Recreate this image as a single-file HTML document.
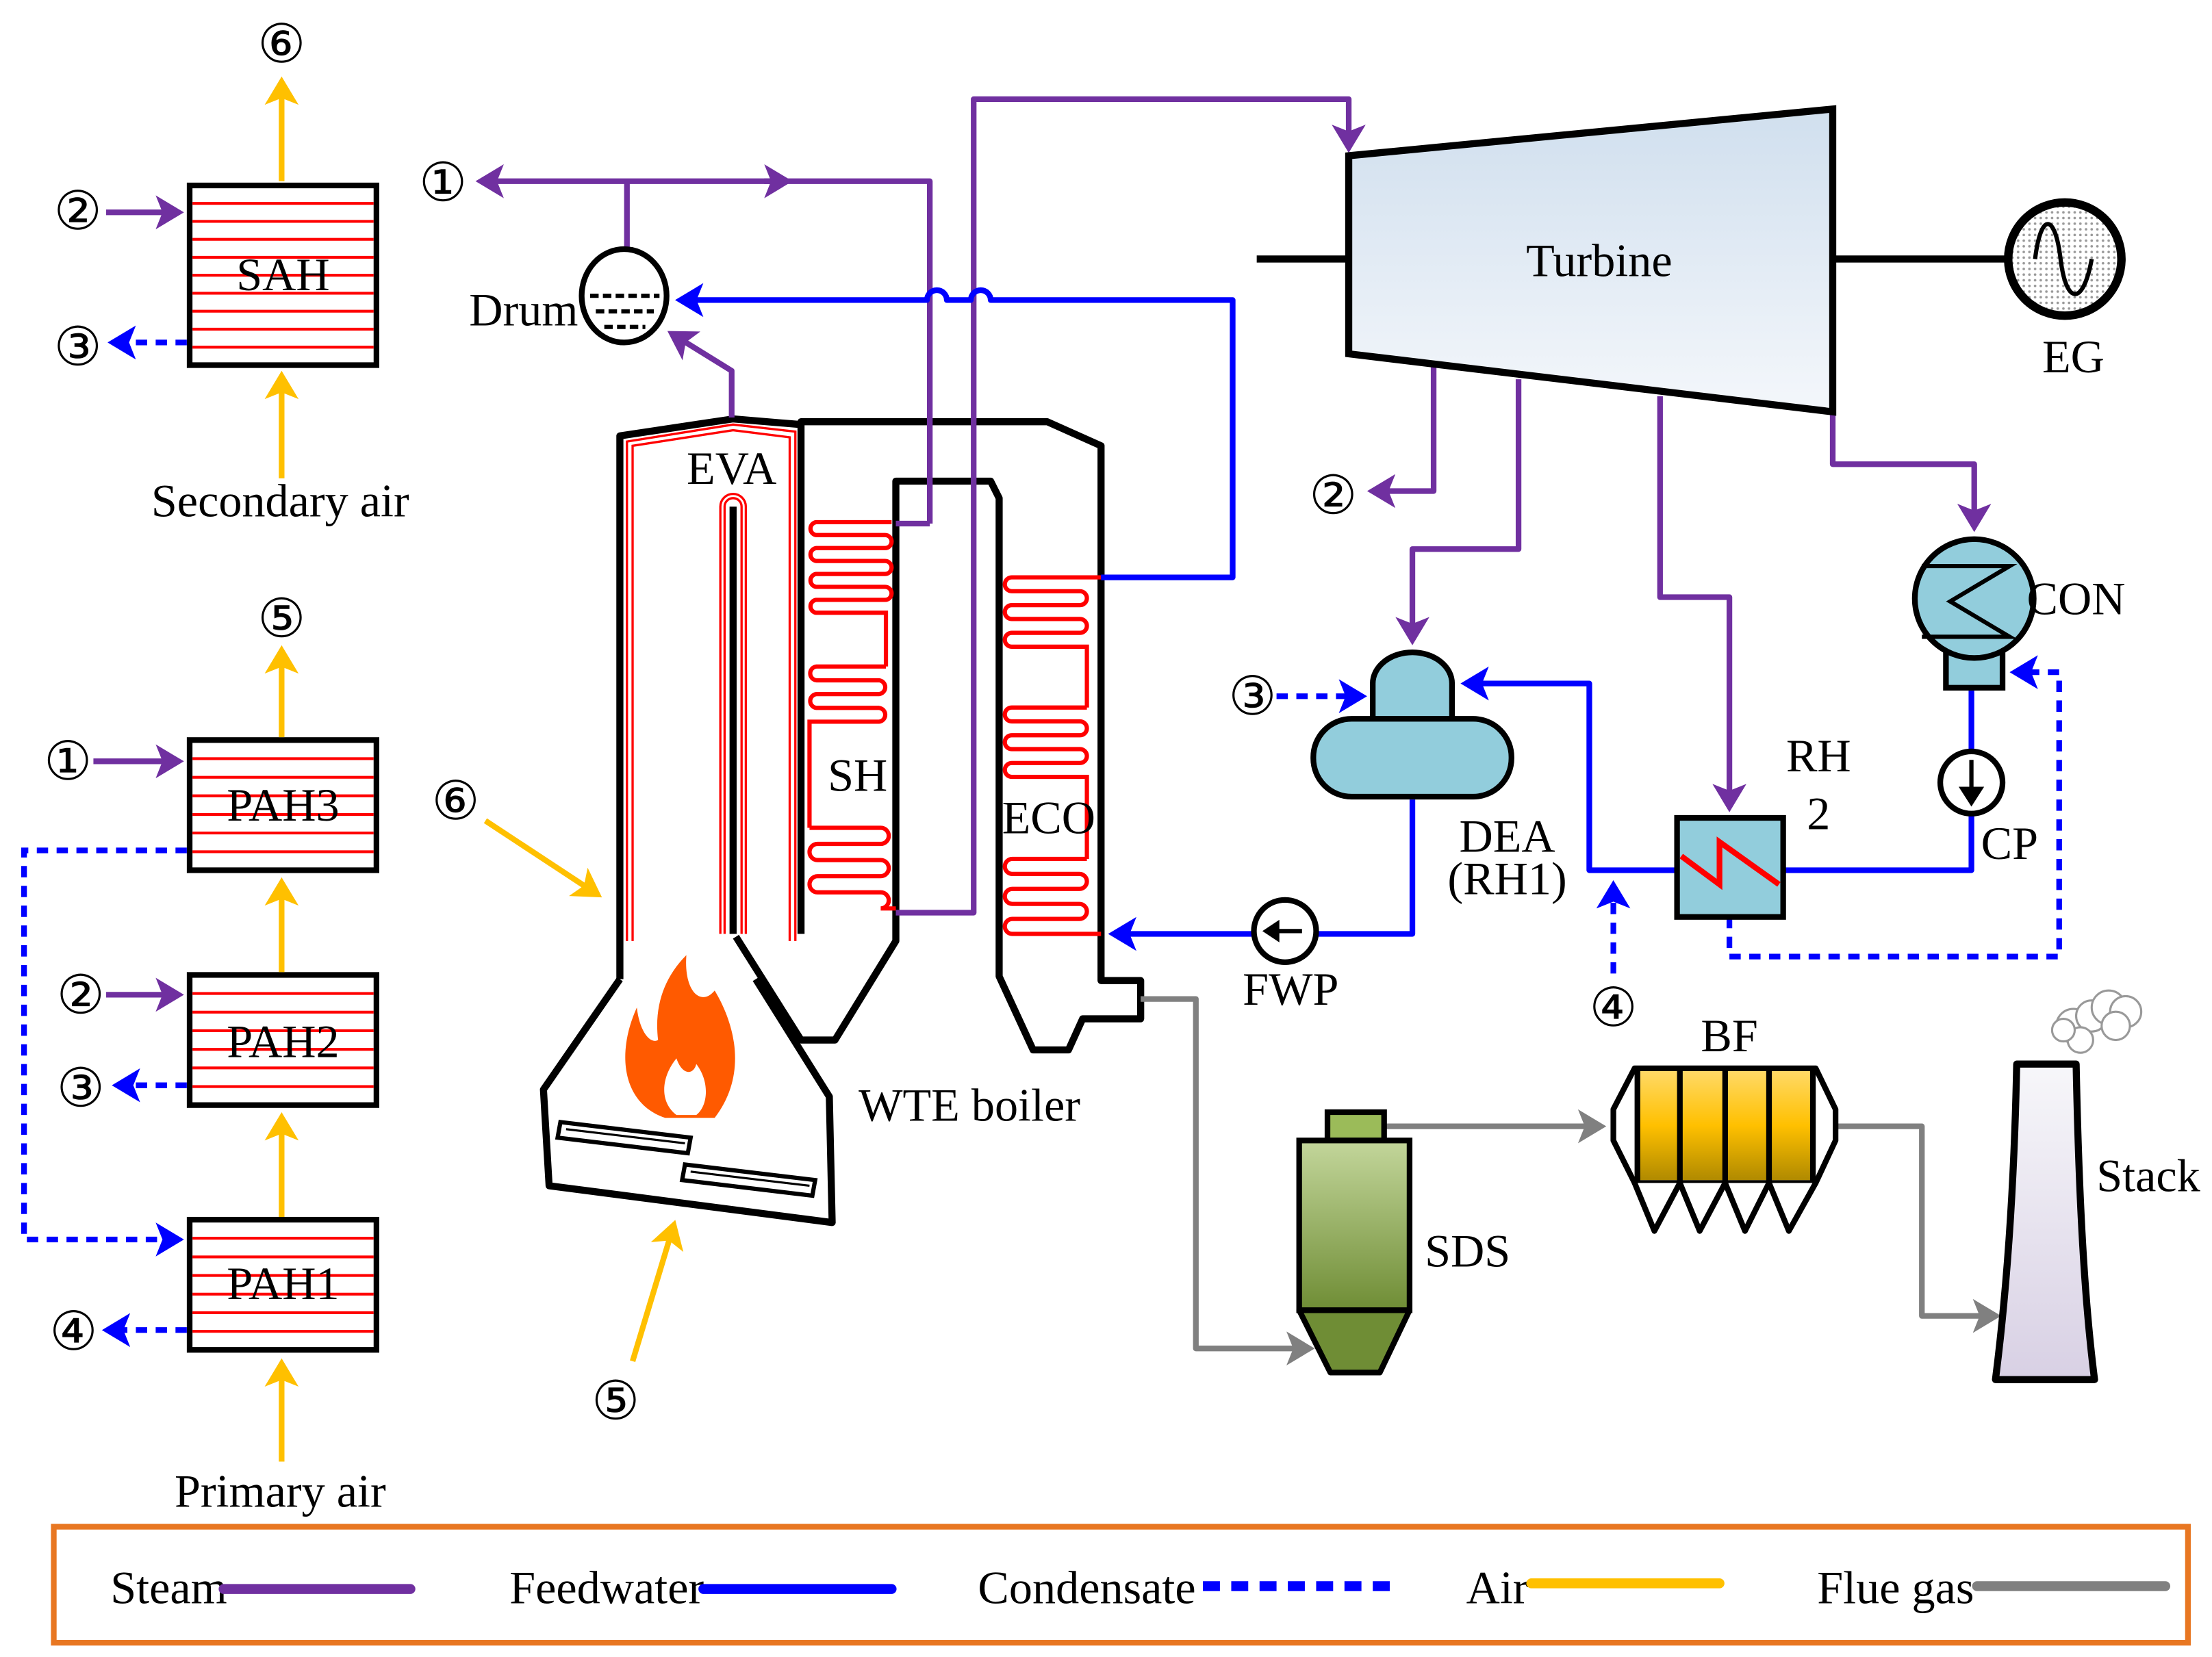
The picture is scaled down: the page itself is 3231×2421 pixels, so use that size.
<!DOCTYPE html>
<html><head><meta charset="utf-8"><style>
html,body{margin:0;padding:0;background:#fff;}
svg{display:block;}
text{font-family:"Liberation Serif","DejaVu Serif",serif;fill:#000;}
.c{font-size:38px;}
</style></head><body>
<svg width="3231" height="2421" viewBox="0 0 1563 1171" xmlns="http://www.w3.org/2000/svg">
<defs>
<marker id="ap" markerWidth="6" markerHeight="6" refX="4" refY="3" orient="auto" markerUnits="strokeWidth"><path d="M0,0 L5,3 L0,6 L1.2,3z" fill="#7030A0"/></marker>
<marker id="ab" markerWidth="6" markerHeight="6" refX="4" refY="3" orient="auto" markerUnits="strokeWidth"><path d="M0,0 L5,3 L0,6 L1.2,3z" fill="#0000FF"/></marker>
<marker id="ay" markerWidth="6" markerHeight="6" refX="4" refY="3" orient="auto" markerUnits="strokeWidth"><path d="M0,0 L5,3 L0,6 L1.2,3z" fill="#FFC000"/></marker>
<marker id="ag" markerWidth="6" markerHeight="6" refX="4" refY="3" orient="auto" markerUnits="strokeWidth"><path d="M0,0 L5,3 L0,6 L1.2,3z" fill="#808080"/></marker>
<linearGradient id="gt" x1="0" y1="0" x2="0" y2="1"><stop offset="0" stop-color="#d0dfee"/><stop offset="1" stop-color="#f4f7fb"/></linearGradient>
<linearGradient id="gs" x1="0" y1="0" x2="0" y2="1"><stop offset="0" stop-color="#c3d69b"/><stop offset="1" stop-color="#6f8d35"/></linearGradient>
<linearGradient id="gb" x1="0" y1="0" x2="0" y2="1"><stop offset="0" stop-color="#ffd966"/><stop offset="0.5" stop-color="#ffc000"/><stop offset="1" stop-color="#b08a00"/></linearGradient>
<linearGradient id="gk" x1="0" y1="0" x2="0" y2="1"><stop offset="0" stop-color="#f7f7fa"/><stop offset="1" stop-color="#d8d0e4"/></linearGradient>
<pattern id="dots" width="4" height="4" patternUnits="userSpaceOnUse"><rect width="4" height="4" fill="#fff"/><circle cx="2" cy="2" r="0.9" fill="#999"/></pattern>
</defs>
<g font-size="33">
<!-- legend -->
<rect x="38" y="1079" width="1508" height="82" fill="none" stroke="#E87722" stroke-width="4"/>
<text x="78" y="1133">Steam</text><line x1="158" y1="1123" x2="290" y2="1123" stroke="#7030A0" stroke-width="7" stroke-linecap="round"/>
<text x="360" y="1133">Feedwater</text><line x1="497" y1="1123" x2="630" y2="1123" stroke="#0000FF" stroke-width="7" stroke-linecap="round"/>
<text x="691" y="1133">Condensate</text><line x1="850" y1="1121" x2="985" y2="1121" stroke="#0000FF" stroke-width="7" stroke-dasharray="12,8"/>
<text x="1036" y="1133">Air</text><line x1="1082" y1="1119" x2="1215" y2="1119" stroke="#FFC000" stroke-width="7" stroke-linecap="round"/>
<text x="1284" y="1133">Flue gas</text><line x1="1397" y1="1121" x2="1530" y2="1121" stroke="#808080" stroke-width="7" stroke-linecap="round"/>

<!-- heat exchangers -->
<g fill="#fff" stroke="#000" stroke-width="4">
<rect x="134" y="131" width="132" height="127"/>
<rect x="134" y="523" width="132" height="92"/>
<rect x="134" y="689" width="132" height="92"/>
<rect x="134" y="862" width="132" height="92"/>
</g>
<g stroke="#FF0000" stroke-width="2">
<line x1="136" x2="264" y1="143.7" y2="143.7"/><line x1="136" x2="264" y1="156.4" y2="156.4"/><line x1="136" x2="264" y1="169.1" y2="169.1"/><line x1="136" x2="264" y1="181.8" y2="181.8"/><line x1="136" x2="264" y1="194.5" y2="194.5"/><line x1="136" x2="264" y1="207.2" y2="207.2"/><line x1="136" x2="264" y1="219.9" y2="219.9"/><line x1="136" x2="264" y1="232.6" y2="232.6"/><line x1="136" x2="264" y1="245.3" y2="245.3"/>
<line x1="136" x2="264" y1="536.1" y2="536.1"/><line x1="136" x2="264" y1="549.3" y2="549.3"/><line x1="136" x2="264" y1="562.4" y2="562.4"/><line x1="136" x2="264" y1="575.6" y2="575.6"/><line x1="136" x2="264" y1="588.7" y2="588.7"/><line x1="136" x2="264" y1="601.9" y2="601.9"/>
<line x1="136" x2="264" y1="702.1" y2="702.1"/><line x1="136" x2="264" y1="715.3" y2="715.3"/><line x1="136" x2="264" y1="728.4" y2="728.4"/><line x1="136" x2="264" y1="741.6" y2="741.6"/><line x1="136" x2="264" y1="754.7" y2="754.7"/><line x1="136" x2="264" y1="767.9" y2="767.9"/>
<line x1="136" x2="264" y1="875.1" y2="875.1"/><line x1="136" x2="264" y1="888.3" y2="888.3"/><line x1="136" x2="264" y1="901.4" y2="901.4"/><line x1="136" x2="264" y1="914.6" y2="914.6"/><line x1="136" x2="264" y1="927.7" y2="927.7"/><line x1="136" x2="264" y1="940.9" y2="940.9"/>
</g>
<text x="200" y="205" text-anchor="middle">SAH</text>
<text x="200" y="580" text-anchor="middle">PAH3</text>
<text x="200" y="747" text-anchor="middle">PAH2</text>
<text x="200" y="918" text-anchor="middle">PAH1</text>
<g fill="none" stroke-width="4">
<line x1="199" y1="128" x2="199" y2="58" stroke="#FFC000" marker-end="url(#ay)"/>
<line x1="75" y1="150" x2="126" y2="150" stroke="#7030A0" marker-end="url(#ap)"/>
<line x1="132" y1="242" x2="80" y2="242" stroke="#0000FF" stroke-dasharray="8,6" marker-end="url(#ab)"/>
<line x1="199" y1="338" x2="199" y2="266" stroke="#FFC000" marker-end="url(#ay)"/>
<line x1="199" y1="521" x2="199" y2="460" stroke="#FFC000" marker-end="url(#ay)"/>
<line x1="66" y1="538" x2="126" y2="538" stroke="#7030A0" marker-end="url(#ap)"/>
<polyline points="132,601 17,601 17,876 126,876" stroke="#0000FF" stroke-dasharray="8,6" marker-end="url(#ab)"/>
<line x1="199" y1="687" x2="199" y2="624" stroke="#FFC000" marker-end="url(#ay)"/>
<line x1="75" y1="703" x2="126" y2="703" stroke="#7030A0" marker-end="url(#ap)"/>
<line x1="132" y1="767" x2="83" y2="767" stroke="#0000FF" stroke-dasharray="8,6" marker-end="url(#ab)"/>
<line x1="199" y1="860" x2="199" y2="790" stroke="#FFC000" marker-end="url(#ay)"/>
<line x1="132" y1="940" x2="76" y2="940" stroke="#0000FF" stroke-dasharray="8,6" marker-end="url(#ab)"/>
<line x1="199" y1="1033" x2="199" y2="964" stroke="#FFC000" marker-end="url(#ay)"/>
<line x1="343" y1="580" x2="422" y2="632" stroke="#FFC000" marker-end="url(#ay)"/>
<line x1="447" y1="962" x2="476" y2="866" stroke="#FFC000" marker-end="url(#ay)"/>
</g>
<text class="c" x="199" y="44" text-anchor="middle">⑥</text>
<text class="c" x="55" y="162" text-anchor="middle">②</text>
<text class="c" x="55" y="258" text-anchor="middle">③</text>
<text x="198" y="365" text-anchor="middle">Secondary air</text>
<text class="c" x="199" y="450" text-anchor="middle">⑤</text>
<text class="c" x="48" y="551" text-anchor="middle">①</text>
<text class="c" x="57" y="716" text-anchor="middle">②</text>
<text class="c" x="57" y="782" text-anchor="middle">③</text>
<text class="c" x="52" y="954" text-anchor="middle">④</text>
<text x="198" y="1065" text-anchor="middle">Primary air</text>
<text class="c" x="322" y="579" text-anchor="middle">⑥</text>
<text class="c" x="435" y="1003" text-anchor="middle">⑤</text>

<!-- boiler -->
<g fill="none" stroke="#000" stroke-width="5" stroke-linejoin="round">
<path d="M438,692 L438,308 L518,296 L566,300"/>
<path d="M566,300 L566,298 L740,298 L778,315 L778,693 L806,693 L806,720 L765,720 L755,742 L730,742 L706,690 L706,352 L700,340 L633,340 L633,665 L590,735 L566,735 L520,662"/>
<path d="M566,300 L566,660"/>
<path d="M438,692 L384,770 L388,838 L588,864 L586,775 L534,692"/>
<line x1="518" y1="358" x2="518" y2="660"/>
</g>
<g fill="none" stroke="#FF0000" stroke-width="1.6">
<path d="M443,665 L443,312 L518,300 L562,305 L562,665"/>
<path d="M447,665 L447,315 L518,304 L558,309 L558,665"/>
<path d="M512,660 L512,358 A6,6 0 0 1 524,358 L524,660"/>
<path d="M509,660 L509,358 A9,9 0 0 1 527,358 L527,660"/>
</g>
<g fill="none" stroke="#FF0000" stroke-width="3">
<path d="M630,369 H576.6 A4.6,4.6 0 0 0 576.6,378.1 H625.4 A4.6,4.6 0 0 1 625.4,387.3 H576.6 A4.6,4.6 0 0 0 576.6,396.4 H625.4 A4.6,4.6 0 0 1 625.4,405.6 H576.6 A4.6,4.6 0 0 0 576.6,414.7 H625.4 A4.6,4.6 0 0 1 625.4,423.9 H576.6 A4.6,4.6 0 0 0 576.6,433 H626 V471"/>
<path d="M626,471 H576.9 A4.9,4.9 0 0 0 576.9,480.75 H621.1 A4.9,4.9 0 0 1 621.1,490.5 H576.9 A4.9,4.9 0 0 0 576.9,500.25 H621.1 A4.9,4.9 0 0 1 621.1,510 H572 V585"/>
<path d="M572,585 H622.3 A5.7,5.7 0 0 1 622.3,596.4 H577.7 A5.7,5.7 0 0 0 577.7,607.8 H622.3 A5.7,5.7 0 0 1 622.3,619.2 H577.7 A5.7,5.7 0 0 0 577.7,630.6 H622.3 A5.7,5.7 0 0 1 622.3,642 H633"/>
<path d="M778,408 H714.9 A4.9,4.9 0 0 0 714.9,417.8 H763.1 A4.9,4.9 0 0 1 763.1,427.6 H714.9 A4.9,4.9 0 0 0 714.9,437.4 H763.1 A4.9,4.9 0 0 1 763.1,447.2 H714.9 A4.9,4.9 0 0 0 714.9,457 H768 V500"/>
<path d="M768,500 H714.9 A4.9,4.9 0 0 0 714.9,509.8 H763.1 A4.9,4.9 0 0 1 763.1,519.6 H714.9 A4.9,4.9 0 0 0 714.9,529.4 H763.1 A4.9,4.9 0 0 1 763.1,539.2 H714.9 A4.9,4.9 0 0 0 714.9,549 H768 V607"/>
<path d="M768,607 H715.3 A5.3,5.3 0 0 0 715.3,617.6 H762.7 A5.3,5.3 0 0 1 762.7,628.2 H715.3 A5.3,5.3 0 0 0 715.3,638.8 H762.7 A5.3,5.3 0 0 1 762.7,649.4 H715.3 A5.3,5.3 0 0 0 715.3,660 H778"/>
</g>
<text x="517" y="342" text-anchor="middle">EVA</text>
<text x="606" y="559" text-anchor="middle">SH</text>
<text x="741" y="589" text-anchor="middle">ECO</text>
<text x="685" y="792" text-anchor="middle">WTE boiler</text>
<!-- flame -->
<path d="M470,790 C440,780 435,745 450,712 C452,730 460,738 465,735 C462,710 470,690 485,675 C483,700 495,712 505,700 C520,725 528,760 505,790 Z" fill="#FF5A00"/>
<path d="M478,788 C465,778 468,760 478,748 C482,760 490,760 492,752 C502,765 500,782 492,788 Z" fill="#fff"/>
<!-- grates -->
<g fill="#fff" stroke="#000" stroke-width="3">
<polygon points="396,793 488,804 486,815 394,804"/>
<polygon points="484,823 576,834 574,845 482,834"/>
</g>
<line x1="400" y1="798" x2="484" y2="808" stroke="#000" stroke-width="1.5"/>
<line x1="488" y1="828" x2="572" y2="838" stroke="#000" stroke-width="1.5"/>

<!-- steam lines -->
<g fill="none" stroke="#7030A0" stroke-width="4" stroke-linejoin="round">
<line x1="443" y1="176" x2="443" y2="128"/>
<polyline points="657,370 657,128 340,128" marker-end="url(#ap)"/>
<line x1="540" y1="128" x2="556" y2="128" marker-end="url(#ap)"/>
<polyline points="633,370 657,370"/>
<polyline points="517,295 517,262 475,236" marker-end="url(#ap)"/>
<polyline points="633,645 688,645 688,70 953,70 953,104" marker-end="url(#ap)"/>
<polyline points="1013,258 1013,347 970,347" marker-end="url(#ap)"/>
<polyline points="1073,268 1073,388 998,388 998,452" marker-end="url(#ap)"/>
<polyline points="1173,280 1173,422 1222,422 1222,570" marker-end="url(#ap)"/>
<polyline points="1295,291 1295,328 1395,328 1395,372" marker-end="url(#ap)"/>
</g>
<text class="c" x="313" y="142" text-anchor="middle">①</text>
<text class="c" x="942" y="363" text-anchor="middle">②</text>
<!-- feedwater -->
<g fill="none" stroke="#0000FF" stroke-width="4" stroke-linejoin="round">
<path d="M778,408 L871,408 L871,212 L700,212 A7,7 0 0 0 686,212 L669,212 A7,7 0 0 0 655,212 L481,212" marker-end="url(#ab)"/>
<polyline points="998,565 998,660 930,660"/>
<line x1="886" y1="660" x2="787" y2="660" marker-end="url(#ab)"/>
<polyline points="1185,615 1123,615 1123,483 1036,483" marker-end="url(#ab)"/>
<polyline points="1393,488 1393,531"/>
<polyline points="1393,575 1393,615 1260,615"/>
</g>
<g fill="none" stroke="#0000FF" stroke-width="4" stroke-dasharray="8,6">
<polyline points="1222,648 1222,676 1455,676 1455,475 1424,475" marker-end="url(#ab)"/>
<line x1="1140" y1="688" x2="1140" y2="626" marker-end="url(#ab)"/>
<line x1="902" y1="492" x2="962" y2="492" marker-end="url(#ab)"/>
</g>
<text class="c" x="1140" y="725" text-anchor="middle">④</text>
<text class="c" x="885" y="505" text-anchor="middle">③</text>
<!-- drum -->
<ellipse cx="441" cy="209" rx="30" ry="33" fill="#fff" stroke="#000" stroke-width="4"/>
<g stroke="#000" stroke-width="3" stroke-dasharray="6,3"><line x1="417" y1="209" x2="466" y2="209"/><line x1="421" y1="220" x2="462" y2="220"/><line x1="427" y1="231" x2="456" y2="231"/></g>
<text x="370" y="230" text-anchor="middle">Drum</text>
<!-- turbine -->
<line x1="888" y1="183" x2="953" y2="183" stroke="#000" stroke-width="5"/>
<line x1="1295" y1="183" x2="1420" y2="183" stroke="#000" stroke-width="5"/>
<polygon points="953,110 1295,77 1295,291 953,250" fill="url(#gt)" stroke="#000" stroke-width="5"/>
<text x="1130" y="195" text-anchor="middle">Turbine</text>
<circle cx="1459" cy="183" r="40" fill="url(#dots)" stroke="#000" stroke-width="6"/>
<path d="M1438,183 C1442,150 1452,150 1456,183 C1460,216 1472,216 1478,183" fill="none" stroke="#000" stroke-width="3"/>
<text x="1465" y="263" text-anchor="middle">EG</text>
<!-- CON -->
<rect x="1375" y="458" width="40" height="28" fill="#92CDDC" stroke="#000" stroke-width="4"/>
<circle cx="1395" cy="423" r="42" fill="#92CDDC" stroke="#000" stroke-width="4"/>
<polyline points="1358,400 1420,400 1378,425 1420,450 1358,450" fill="none" stroke="#000" stroke-width="3"/>
<text x="1467" y="434" text-anchor="middle">CON</text>
<circle cx="1393" cy="553" r="22" fill="#fff" stroke="#000" stroke-width="4"/>
<line x1="1393" y1="537" x2="1393" y2="562" stroke="#000" stroke-width="3"/><polygon points="1384,556 1402,556 1393,570" fill="#000"/>
<text x="1420" y="607" text-anchor="middle">CP</text>
<!-- RH -->
<rect x="1185" y="578" width="75" height="70" fill="#92CDDC" stroke="#000" stroke-width="4"/>
<polyline points="1188,605 1215,625 1215,595 1257,625" fill="none" stroke="#FF0000" stroke-width="4"/>
<text x="1285" y="545" text-anchor="middle">RH</text>
<text x="1285" y="586" text-anchor="middle">2</text>
<!-- DEA -->
<path d="M970,508 L970,483 A28,22 0 0 1 1026,483 L1026,508 Z" fill="#92CDDC" stroke="#000" stroke-width="4"/>
<rect x="928" y="508" width="140" height="55" rx="27" fill="#92CDDC" stroke="#000" stroke-width="4"/>
<text x="1065" y="602" text-anchor="middle">DEA</text>
<text x="1065" y="632" text-anchor="middle">(RH1)</text>
<!-- FWP -->
<circle cx="908" cy="658" r="22" fill="#fff" stroke="#000" stroke-width="4"/>
<line x1="920" y1="658" x2="896" y2="658" stroke="#000" stroke-width="3"/><polygon points="892,658 904,650 904,666" fill="#000"/>
<text x="912" y="710" text-anchor="middle">FWP</text>
<!-- flue gas -->
<g fill="none" stroke="#808080" stroke-width="4" stroke-linejoin="round">
<polyline points="806,706 845,706 845,953 925,953" marker-end="url(#ag)"/>
<polyline points="978,796 1131,796" marker-end="url(#ag)"/>
<polyline points="1297,796 1358,796 1358,930 1410,930" marker-end="url(#ag)"/>
</g>
<!-- SDS -->
<rect x="938" y="786" width="40" height="20" fill="#9BBB59" stroke="#000" stroke-width="4"/>
<rect x="918" y="806" width="78" height="120" fill="url(#gs)" stroke="#000" stroke-width="4"/>
<polygon points="918,926 996,926 975,970 940,970" fill="#6f8d35" stroke="#000" stroke-width="4" stroke-linejoin="round"/>
<text x="1037" y="895" text-anchor="middle">SDS</text>
<!-- BF -->
<polygon points="1140,784 1155,755 1283,755 1297,784 1297,806 1283,836 1155,836 1140,806" fill="#fff" stroke="#000" stroke-width="4" stroke-linejoin="round"/>
<rect x="1157" y="757" width="124" height="77" fill="url(#gb)"/>
<g stroke="#000" stroke-width="4" fill="#fff" stroke-linejoin="round">
<line x1="1157" y1="755" x2="1157" y2="836"/><line x1="1187" y1="755" x2="1187" y2="836"/><line x1="1219" y1="755" x2="1219" y2="836"/><line x1="1250" y1="755" x2="1250" y2="836"/><line x1="1281" y1="755" x2="1281" y2="836"/>
<polyline points="1155,836 1169,870 1187,836 1201,870 1219,836 1233,870 1250,836 1264,870 1283,836"/>
</g>
<text x="1222" y="743" text-anchor="middle">BF</text>
<!-- stack -->
<path d="M1425,752 L1467,752 C1469,850 1473,920 1480,975 L1410,975 C1417,920 1423,850 1425,752 Z" fill="url(#gk)" stroke="#000" stroke-width="5" stroke-linejoin="round"/>
<g fill="#fff" stroke="#999" stroke-width="1.5">
<circle cx="1465" cy="725" r="12"/><circle cx="1478" cy="718" r="11"/><circle cx="1490" cy="712" r="12"/><circle cx="1502" cy="715" r="11"/><circle cx="1495" cy="725" r="10"/><circle cx="1470" cy="735" r="9"/><circle cx="1458" cy="728" r="8"/>
</g>
<text x="1518" y="842" text-anchor="middle">Stack</text>
</g>
</svg>
</body></html>
